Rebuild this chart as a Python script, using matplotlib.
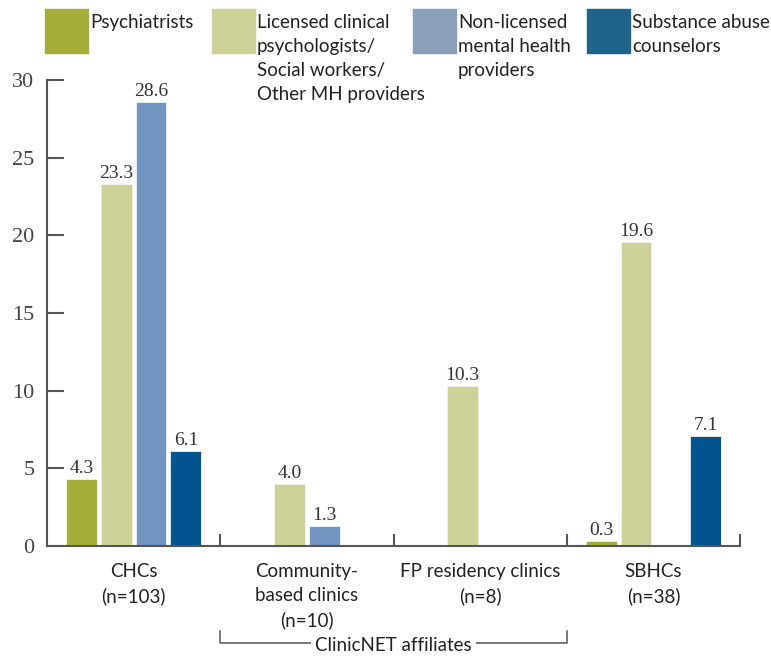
import numpy as np
import matplotlib
matplotlib.use("Agg")
import matplotlib.pyplot as plt
from matplotlib.patches import Rectangle

# clinic types and number of sites
groups = ["CHCs\n(n=103)", "Community-\nbased clinics\n(n=10)",
          "FP residency clinics\n(n=8)", "SBHCs\n(n=38)"]

# providers per clinic type (nan = no bar)
series_names = ["Psychiatrists",
                "Licensed clinical\npsychologists/\nSocial workers/\nOther MH providers",
                "Non-licensed\nmental health\nproviders",
                "Substance abuse\ncounselors"]
psychiatrists = [4.3, np.nan, np.nan, 0.3]
licensed = [23.3, 4.0, 10.3, 19.6]
non_licensed = [28.6, 1.3, np.nan, np.nan]
substance = [6.1, np.nan, np.nan, 7.1]

bar_colors = ["#a6ae3a", "#cdd197", "#7295c2", "#02548f"]
legend_colors = ["#a6ae3a", "#cdd197", "#8ba0b9", "#1f6488"]

sans = "Lato"
serif = "Liberation Serif"
grey = "#555555"
txt = "#222222"

fig = plt.figure(figsize=(7.71, 6.56), dpi=100)
ax = fig.add_axes([47 / 771, 1 - 546 / 656, (740 - 47) / 771, (546 - 80) / 656])

x = np.arange(len(groups))
width = 0.178
step = 0.201
all_series = [psychiatrists, licensed, non_licensed, substance]
for i, vals in enumerate(all_series):
    pos = x + (i - 1.5) * step
    vals = np.array(vals, dtype=float)
    ok = ~np.isnan(vals)
    ax.bar(pos[ok], vals[ok], width, color=bar_colors[i], edgecolor="#f4f4ee", linewidth=0.6)
    for px, v in zip(pos[ok], vals[ok]):
        ax.text(px, v + 0.12, f"{v:.1f}", ha="center", va="bottom",
                fontsize=14, family=serif, color="#333333")

ax.set_xlim(-0.5, len(groups) - 0.5)
ax.set_ylim(0, 30)
ax.set_yticks([0, 5, 10, 15, 20, 25, 30])
ax.set_yticklabels(["0", "5", "10", "15", "20", "25", "30"], family=serif, fontsize=16, color="#444444")
ax.tick_params(axis="y", direction="in", length=12, width=1.5, color=grey, pad=9)

# group separators as small upward ticks on the baseline
ax.set_xticks(np.arange(len(groups)) + 0.5)
ax.set_xticklabels([])
ax.tick_params(axis="x", direction="in", length=9, width=1.5, color=grey)

for s in ["top", "right"]:
    ax.spines[s].set_visible(False)
for s in ["left", "bottom"]:
    ax.spines[s].set_color(grey)
    ax.spines[s].set_linewidth(1.5)

for xi, g in zip(x, groups):
    ax.text(xi, -1.1, g, ha="center", va="top", fontsize=13.5, family=sans,
            color=txt, linespacing=1.5)

# ClinicNET bracket under the middle two groups
yb = -6.25
ax.plot([0.5, 0.5, 2.5, 2.5], [yb + 0.75, yb, yb, yb + 0.75], color=grey, lw=1.1, clip_on=False)
ax.text(1.5, yb - 0.15, "ClinicNET affiliates", ha="center", va="center", fontsize=13.5,
        family=sans, color=txt,
        bbox=dict(boxstyle="square,pad=0.2", fc="white", ec="none"))

# legend across the top
leg_x = [45, 212, 413, 587]
for lx, name, c in zip(leg_x, series_names, legend_colors):
    fig.patches.append(Rectangle((lx / 771, 1 - 53 / 656), 43 / 771, 44 / 656,
                                 transform=fig.transFigure, color=c))
    fig.text((lx + 45) / 771, 1 - 14 / 656, name, ha="left", va="top", fontsize=13.5,
             family=sans, color=txt, linespacing=1.5)

fig.savefig("out.png", dpi=100)
